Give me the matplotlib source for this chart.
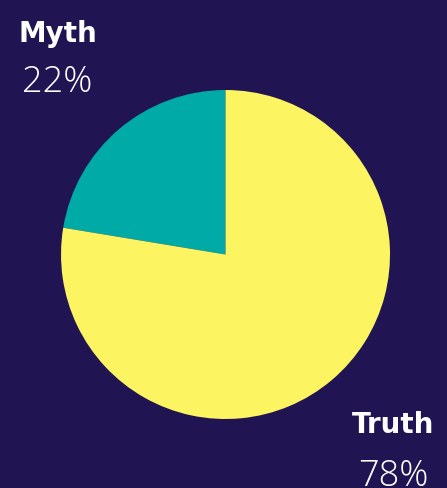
import matplotlib
matplotlib.use("Agg")
import matplotlib.pyplot as plt

# Datos del gráfico (porcentajes)
labels = ["Myth", "Truth"]
values = [22.4, 77.6]
colors = ["#00aaa7", "#fcf460"]
bg = "#201552"

fig = plt.figure(figsize=(4.47, 4.89), dpi=100, facecolor=bg)
ax = fig.add_axes([0.1365, 0.141, 0.736, 0.673])
ax.set_facecolor(bg)
ax.pie(values, colors=colors, startangle=90, counterclock=True,
       radius=1, wedgeprops=dict(linewidth=0))
ax.set_xlim(-1, 1)
ax.set_ylim(-1, 1)
ax.set_aspect("equal")
ax.axis("off")

# Etiquetas: nombre y porcentaje
pos = {"Myth": (57.5, 34, 82), "Truth": (393, 425, 477)}
for lab, val in zip(labels, values):
    x, y1, y2 = pos[lab]
    fig.text(x / 447, 1 - y1 / 489, lab, color="white", fontsize=20,
             fontweight="bold", ha="center", va="center", family="DejaVu Sans")
    fig.text(x / 447, 1 - y2 / 489, f"{val:.0f}%", color="white", fontsize=26,
             fontweight=300, ha="center", va="center", family="Open Sans")

fig.savefig("out.png", dpi=100, facecolor=bg)
